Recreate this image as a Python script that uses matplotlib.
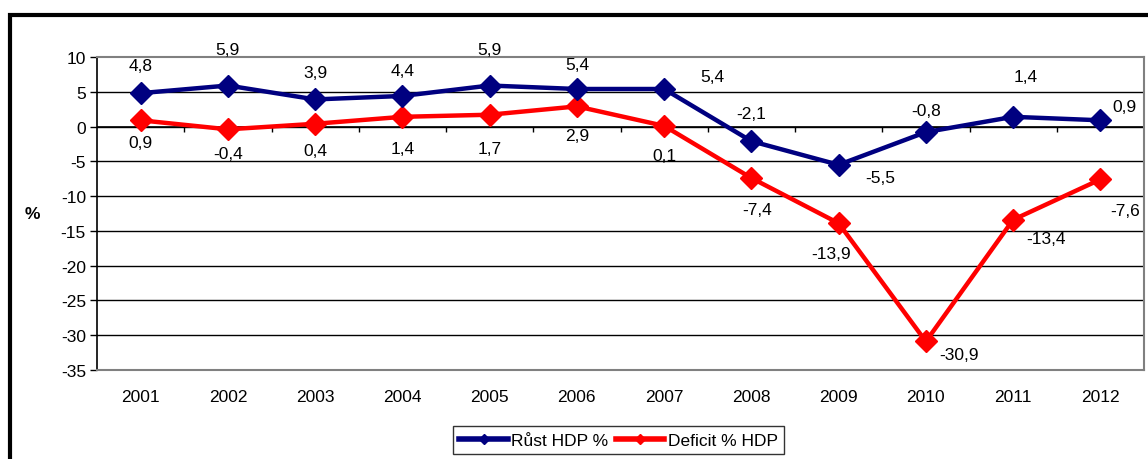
import matplotlib.pyplot as plt
from matplotlib.patches import Rectangle

years = ["2001", "2002", "2003", "2004", "2005", "2006",
         "2007", "2008", "2009", "2010", "2011", "2012"]
rust_hdp = [4.8, 5.9, 3.9, 4.4, 5.9, 5.4, 5.4, -2.1, -5.5, -0.8, 1.4, 0.9]
deficit_hdp = [0.9, -0.4, 0.4, 1.4, 1.7, 2.9, 0.1, -7.4, -13.9, -30.9, -13.4, -7.6]

# label offsets in pixels (dx, dy), dy positive = up
rust_off = [(0, 28), (0, 36), (0, 27), (0, 25), (0, 36), (0, 24),
            (48, 12), (0, 28), (42, -13), (0, 22), (13, 40), (24, 14)]
def_off = [(0, -22), (0, -24), (0, -27), (0, -32), (0, -34), (0, -29),
           (0, -30), (6, -31), (-8, -30), (33, -13), (33, -19), (25, -31)]

plt.rcParams['font.family'] = ['Liberation Sans', 'DejaVu Sans']
plt.rcParams['axes.unicode_minus'] = False
FS = 12.5

fig = plt.figure(figsize=(11.48, 4.6), dpi=100)
ax = fig.add_axes([97 / 1148, 1 - 371 / 460, (1144 - 97) / 1148, (371 - 58) / 460])

x = list(range(len(years)))
blue = '#000080'
red = '#FF0000'
ax.plot(x, rust_hdp, color=blue, lw=3.2, marker='D', ms=11, label='Růst HDP %', zorder=4)
ax.plot(x, deficit_hdp, color=red, lw=3.2, marker='D', ms=11, label='Deficit % HDP', zorder=3)

for xi, v, (dx, dy) in zip(x, rust_hdp, rust_off):
    ax.annotate(f"{v:.1f}".replace('.', ','), (xi, v), xytext=(dx, dy),
                textcoords='offset pixels', ha='center', va='center', fontsize=FS)
for xi, v, (dx, dy) in zip(x, deficit_hdp, def_off):
    ax.annotate(f"{v:.1f}".replace('.', ','), (xi, v), xytext=(dx, dy),
                textcoords='offset pixels', ha='center', va='center', fontsize=FS)

ax.set_xlim(-0.5, len(years) - 0.5)
ax.set_ylim(-35, 10)
ax.set_yticks(range(-35, 11, 5))
ax.tick_params(axis='y', direction='out', length=5, width=1, labelsize=FS, pad=3)
ax.set_xticks(x, years)
ax.tick_params(axis='x', length=0, labelsize=FS, pad=14)

# horizontal gridlines
for y in range(-30, 10, 5):
    ax.axhline(y, color='black', lw=1, zorder=1)

# category axis crosses at zero, with tick marks between categories
ax.axhline(0, color='black', lw=1.2, zorder=2)
ax.vlines([i + 0.5 for i in range(len(years) - 1)], -0.75, 0, color='black', lw=1, zorder=2)

for side in ['top', 'bottom', 'right']:
    ax.spines[side].set_color('#808080')
    ax.spines[side].set_linewidth(1.5)
ax.spines['left'].set_color('black')
ax.spines['left'].set_linewidth(1.2)

ax.set_ylabel('%', fontsize=FS, fontweight='bold', rotation=0, labelpad=20, va='center')

leg = ax.legend(loc='center', bbox_to_anchor=(618.5 / 1148, 1 - 441 / 460),
                bbox_transform=fig.transFigure, ncol=2, frameon=True, fancybox=False,
                fontsize=FS, markerscale=0.45, handlelength=2.8, handletextpad=0.2,
                columnspacing=0.4, borderpad=0.35, edgecolor='black')
leg.get_frame().set_linewidth(1)
for line in leg.get_lines():
    line.set_linewidth(4)

# outer chart border
fig.patches.append(Rectangle((9.5 / 1148, -0.1), 1.5, 1 - 16 / 460 + 0.1,
                             transform=fig.transFigure, fill=False,
                             edgecolor='black', lw=3))

fig.savefig('out.png', dpi=100)
